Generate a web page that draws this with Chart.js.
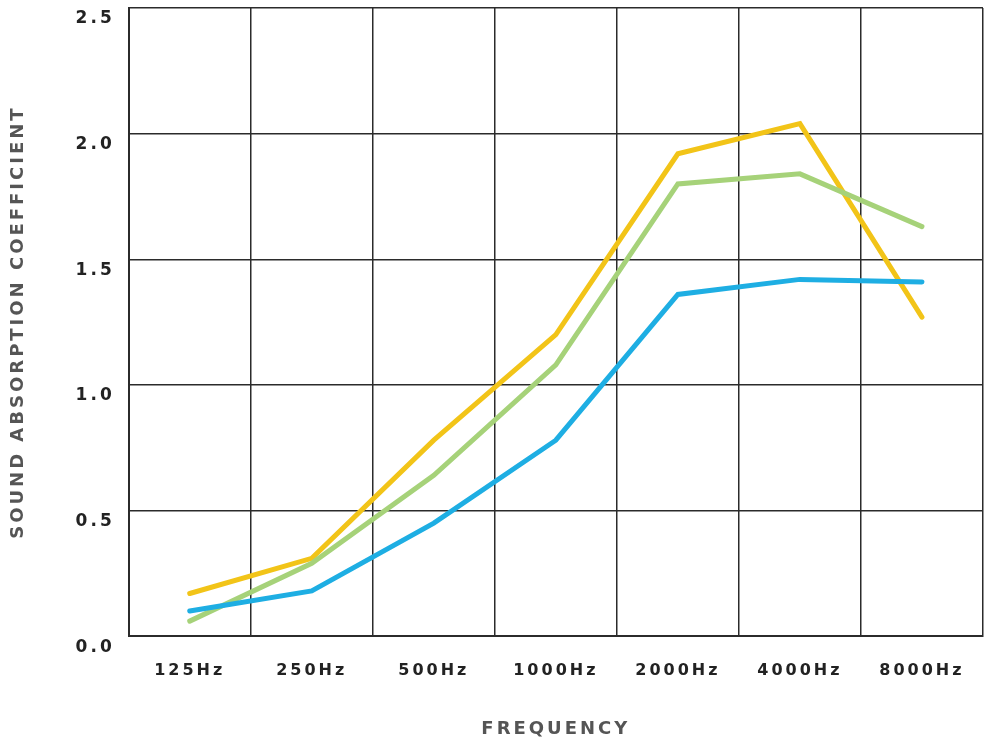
<!DOCTYPE html>
<html>
<head>
<meta charset="utf-8">
<script src="https://cdn.jsdelivr.net/npm/chart.js@4.4.0/dist/chart.umd.min.js"></script>
<style>
  html, body { margin: 0; padding: 0; background: #fff; }
  #wrap { width: 990px; height: 740px; }
</style>
</head>
<body>
<div id="wrap"><canvas id="absorptionChart"></canvas></div>
<script>
// frequency bands
const frequencies = ['125Hz', '250Hz', '500Hz', '1000Hz', '2000Hz', '4000Hz', '8000Hz'];
// coefficients per product
const yellowSeries = [0.17, 0.31, 0.78, 1.20, 1.92, 2.04, 1.27];
const greenSeries = [0.06, 0.29, 0.64, 1.08, 1.80, 1.84, 1.63];
const blueSeries = [0.10, 0.18, 0.45, 0.78, 1.36, 1.42, 1.41];
const yTicks = [0, 0.5, 1.0, 1.5, 2.0, 2.5];

// canvas letter spacing gets reset whenever the canvas resizes, so set it again each pass
const spacing = {
    id: 'spacing',
    beforeUpdate(chart) { chart.ctx.letterSpacing = '3px'; },
    beforeLayout(chart) { chart.ctx.letterSpacing = '3px'; },
    beforeDraw(chart) { chart.ctx.letterSpacing = '3px'; }
};

const font = 'DejaVu Sans';
const line = (data, color) => ({
    data: data,
    borderColor: color,
    backgroundColor: color,
    borderWidth: 5,
    pointRadius: 0,
    tension: 0,
    borderCapStyle: 'round',
    borderJoinStyle: 'miter'
});

new Chart(document.getElementById('absorptionChart').getContext('2d'), {
    type: 'line',
    data: {
        labels: frequencies,
        datasets: [
            line(blueSeries, '#1eaee3'),
            line(greenSeries, '#a6d279'),
            line(yellowSeries, '#f2c418')
        ]
    },
    options: {
        responsive: true,
        maintainAspectRatio: false,
        animation: false,
        layout: { padding: { top: 8, right: 6, left: 4, bottom: -4 } },
        plugins: {
            legend: { display: false },
            tooltip: { enabled: false }
        },
        scales: {
            x: {
                offset: true,
                grid: { offset: true, color: '#2b2b2b', lineWidth: 1.5, drawTicks: false },
                border: { color: '#2b2b2b', width: 2 },
                ticks: {
                    color: '#222',
                    padding: 25,
                    font: { family: font, size: 16, weight: 'bold' }
                },
                title: {
                    display: true,
                    text: 'FREQUENCY',
                    color: '#555',
                    padding: { top: 13 },
                    font: { family: font, size: 18, weight: 'bold' }
                }
            },
            y: {
                min: 0,
                max: 2.5,
                afterBuildTicks(axis) { axis.ticks = yTicks.map(v => ({ value: v })); },
                // labels sit below their lines, so no extra room is needed above the top one
                afterFit(axis) { axis.paddingTop = 0; axis.paddingBottom = 0; },
                grid: { color: '#2b2b2b', lineWidth: 1.5, drawTicks: false },
                border: { color: '#2b2b2b', width: 2 },
                ticks: {
                    color: '#222',
                    padding: 14,
                    labelOffset: 11,
                    font: { family: font, size: 17, weight: 'bold' },
                    callback: v => Number(v).toFixed(1)
                },
                title: {
                    display: true,
                    text: 'SOUND ABSORPTION COEFFICIENT',
                    color: '#555',
                    padding: { bottom: 32 },
                    font: { family: font, size: 18, weight: 'bold' }
                }
            }
        }
    },
    plugins: [spacing]
});
</script>
</body>
</html>
